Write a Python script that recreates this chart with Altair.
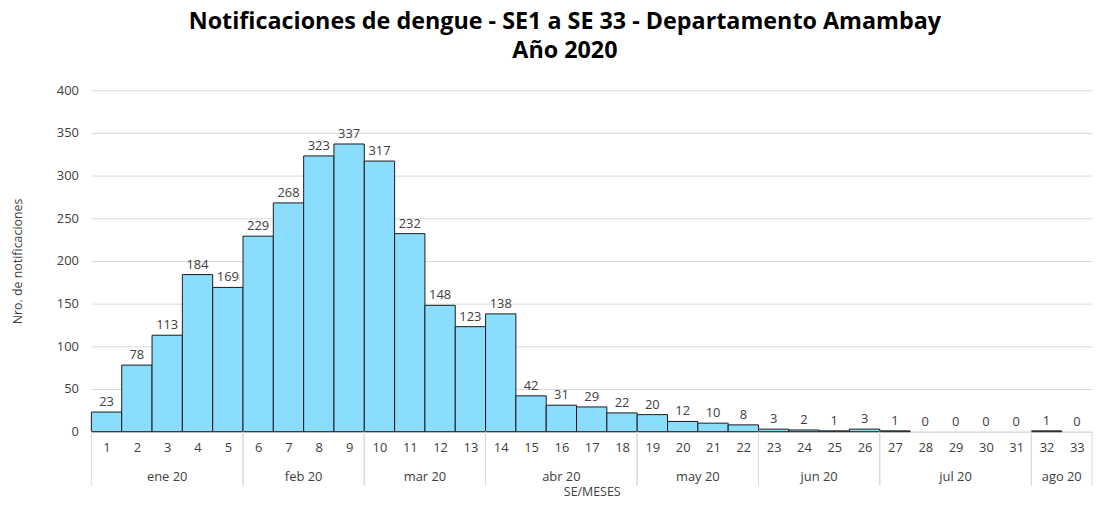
import altair as alt
import pandas as pd

weeks = list(range(1, 34))
values = [23, 78, 113, 184, 169, 229, 268, 323, 337, 317, 232, 148, 123, 138,
          42, 31, 29, 22, 20, 12, 10, 8, 3, 2, 1, 3, 1, 0, 0, 0, 0, 1, 0]

month_names = ["ene 20", "feb 20", "mar 20", "abr 20", "may 20", "jun 20", "jul 20", "ago 20"]
month_start = [1, 6, 10, 14, 19, 23, 27, 32]
month_end = [5, 9, 13, 18, 22, 26, 31, 33]

df = pd.DataFrame({"week": weeks, "value": values})
mdf = pd.DataFrame({"month": month_names, "start": month_start, "end": month_end})

FONT = "Open Sans"
W, H = 1008, 344
GRAY = "#d9d9d9"
TXT = "#404040"

xscale = alt.Scale(domain=[0.5, 33.5], nice=False, zero=False, padding=0)
yscale = alt.Scale(domain=[0, 400], nice=False, padding=0)

xaxis = alt.Axis(
    values=weeks, format="d", tickSize=0, labelPadding=10, labelFontSize=13,
    labelColor=TXT, labelFont=FONT, labelOverlap=False, labelFlush=False,
    labelBound=False, grid=False, domainColor=GRAY,
    title="SE/MESES", titleFont=FONT, titleFontSize=12.5, titleFontWeight="normal",
    titleColor=TXT, titlePadding=31)
yaxis = alt.Axis(
    values=list(range(0, 401, 50)), tickSize=0, domain=False, labelPadding=13,
    labelFontSize=13, labelColor=TXT, labelFont=FONT, gridColor=GRAY,
    title="Nro. de notificaciones", titleFont=FONT, titleFontSize=12.5,
    titleFontWeight="normal", titleColor=TXT, titlePadding=32)

base = alt.Chart(df).transform_calculate(x0="datum.week - 0.5", x1="datum.week + 0.5")

bars = base.transform_filter("datum.value > 0").mark_bar(
    color="#8ADDFC", stroke="#1a1a1a", strokeWidth=1
).encode(
    x=alt.X("x0:Q", scale=xscale, axis=xaxis),
    x2="x1:Q",
    y=alt.Y("value:Q", scale=yscale, axis=yaxis),
    y2=alt.datum(0),
)

labels = alt.Chart(df).mark_text(
    baseline="bottom", dy=-3, fontSize=13, font=FONT, color=TXT
).encode(
    x=alt.X("week:Q", scale=xscale, axis=xaxis),
    y=alt.Y("value:Q", scale=yscale, axis=yaxis),
    text="value:Q",
)

mbase = alt.Chart(mdf)
month_text = mbase.transform_calculate(mid="(datum.start + datum.end) / 2").mark_text(
    baseline="middle", fontSize=13, font=FONT, color=TXT
).encode(
    x=alt.X("mid:Q", scale=xscale, axis=xaxis),
    y=alt.value(H + 46),
    text="month:N",
)
sep_start = mbase.transform_calculate(b="datum.start - 0.5").mark_rule(
    color=GRAY, strokeWidth=1
).encode(x=alt.X("b:Q", scale=xscale, axis=xaxis), y=alt.value(H), y2=alt.value(H + 54))
sep_end = mbase.transform_calculate(b="datum.end + 0.5").mark_rule(
    color=GRAY, strokeWidth=1
).encode(x=alt.X("b:Q", scale=xscale, axis=xaxis), y=alt.value(H), y2=alt.value(H + 54))

chart = alt.layer(bars, labels, sep_start, sep_end, month_text).properties(
    width=W, height=H,
    title=alt.TitleParams(
        text=["Notificaciones de dengue - SE1 a SE 33 - Departamento Amambay", "Año 2020"],
        font=FONT, fontSize=23.5, fontWeight="bold", color="#000000",
        anchor="middle", frame="group", lineHeight=29, offset=22, dx=-27,
    ),
    autosize=alt.AutoSizeParams(type="none"),
    padding={"left": 84, "top": 81, "right": 5, "bottom": 66},
).configure_view(stroke=None).configure_axisX(labelOverlap=False)

chart.save("out.html", embed_options={"renderer": "svg", "actions": False})
